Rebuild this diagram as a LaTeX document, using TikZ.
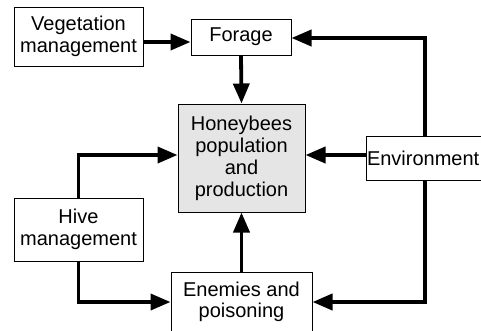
\documentclass[tikz,border=0pt]{standalone}
\usepackage{fontspec}
\setmainfont{Liberation Sans}
\usetikzlibrary{arrows.meta}
\begin{document}
\begin{tikzpicture}[x=1pt,y=-1pt,
  box/.style={draw=black,line width=1pt,fill=white,align=center,inner sep=0pt,
    font=\fontsize{20}{22}\selectfont},
  arr/.style={line width=3.8pt,-{Triangle[length=20pt,width=16pt]}}]
\useasboundingbox (0,0) rectangle (481,330);
\begin{scope}
\clip (0,0) rectangle (481,330);
\node[box,minimum width=129pt,minimum height=59pt] (veg) at (78.5,36.5) {Vegetation\\management};
\node[box,minimum width=100pt,minimum height=36pt] (forage) at (241,37) {Forage};
\node[box,fill=black!10,minimum width=127pt,minimum height=108pt] (honey) at (241.5,158) {Honeybees\\population\\and\\production};
\node[box,minimum width=124pt,minimum height=44pt,text width=122pt,align=left,inner xsep=1pt] (env) at (428,158) {Environment};
\node[box,minimum width=129pt,minimum height=63pt] (hive) at (78.5,229.5) {Hive\\management};
\node[box,minimum width=141pt,minimum height=62pt] (enem) at (241.5,303) {\raisebox{4pt}{\begin{tabular}{@{}c@{}}Enemies and\\[-1pt]poisoning\end{tabular}}};
\draw[arr] ([yshift=-5.5pt]veg.east) -- ([yshift=-5pt]forage.west);
\draw[arr] (forage.south) -- (honey.north);
\draw[arr] ([xshift=-3pt]env.north) |- ([yshift=-1pt]forage.east);
\draw[arr] ([yshift=3pt]env.west) -- ([yshift=3pt]honey.east);
\draw[arr] (hive.north) |- ([yshift=3pt]honey.west);
\draw[arr] (hive.south) |- ([yshift=1pt]enem.west);
\draw[arr] ([xshift=-3pt]env.south) |- ([yshift=1pt]enem.east);
\draw[arr] (enem.north) -- (honey.south);
\end{scope}
\end{tikzpicture}
\end{document}
